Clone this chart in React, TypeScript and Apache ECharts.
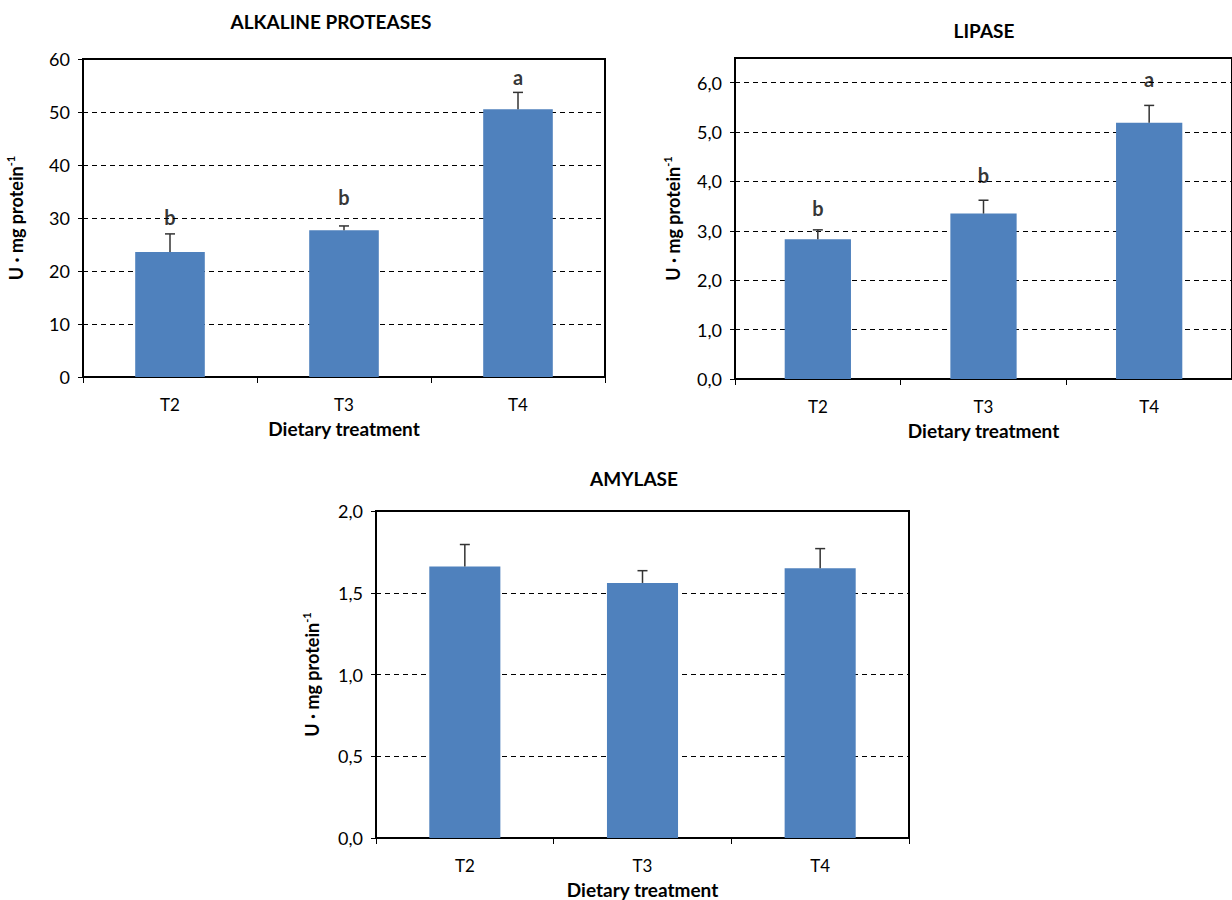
import React, { useEffect, useRef } from "react";
import * as echarts from "echarts";

const categories = ["T2", "T3", "T4"];

const proteaseValues = [23.6, 27.7, 50.5];
const proteaseSE = [3.4, 0.8, 3.2];
const proteaseLetters = ["b", "b", "a"];
const proteaseLetterY = [30.2, 33.9, 56.6];

const lipaseValues = [2.83, 3.35, 5.19];
const lipaseSE = [0.19, 0.27, 0.35];
const lipaseLetters = ["b", "b", "a"];
const lipaseLetterY = [3.47, 4.14, 6.07];

const amylaseValues = [1.66, 1.56, 1.65];
const amylaseSE = [0.135, 0.075, 0.12];

const FONT = "Lato, 'Open Sans', sans-serif";
const BAR_COLOR = "#4f81bd";

const commaFmt = (v: number) => v.toFixed(1).replace(".", ",");

function yAxis(gridIndex: number, max: number, interval: number, fmt: any, nameGap: number, showMax = true) {
  return {
    type: "value",
    gridIndex,
    min: 0,
    max,
    interval,
    name: "{a|U · mg protein}{s|-1}",
    nameLocation: "middle",
    nameGap,
    nameRotate: 90,
    nameTextStyle: {
      rich: {
        a: { fontFamily: FONT, fontSize: 18, fontWeight: "bold", color: "#000", lineHeight: 22 },
        s: { fontFamily: FONT, fontSize: 11, fontWeight: "bold", color: "#000", verticalAlign: "top", lineHeight: 22 },
      },
    },
    axisLine: { show: true, lineStyle: { color: "#000", width: 2 } },
    axisTick: { show: true, length: 5, lineStyle: { color: "#000", width: 1 } },
    axisLabel: {
      fontFamily: FONT,
      fontSize: 18,
      color: "#000",
      margin: 13,
      formatter: fmt,
      showMaxLabel: showMax,
    },
    splitLine: { show: true, lineStyle: { color: "#000", width: 1, type: [5, 4] } },
  };
}

function xAxis(gridIndex: number) {
  return {
    type: "category",
    gridIndex,
    data: categories,
    boundaryGap: true,
    name: "Dietary treatment",
    nameLocation: "middle",
    nameGap: 42,
    nameTextStyle: { fontFamily: FONT, fontSize: 19, fontWeight: "bold", color: "#000" },
    axisLine: { show: true, lineStyle: { color: "#000", width: 2 } },
    axisTick: { show: true, alignWithLabel: false, length: 6, lineStyle: { color: "#000", width: 1 } },
    axisLabel: { fontFamily: FONT, fontSize: 17, color: "#000", margin: 19 },
    splitLine: { show: false },
  };
}

function barSeries(idx: number, values: number[]) {
  return {
    type: "bar",
    xAxisIndex: idx,
    yAxisIndex: idx,
    data: values,
    barWidth: "40%",
    itemStyle: { color: BAR_COLOR },
    z: 3,
  };
}

function errSeries(idx: number, values: number[], se: number[]) {
  return {
    type: "custom",
    xAxisIndex: idx,
    yAxisIndex: idx,
    z: 4,
    data: values.map((v, i) => [i, v, v + se[i]]),
    renderItem: (params: any, api: any) => {
      const base = api.coord([api.value(0), api.value(1)]);
      const top = api.coord([api.value(0), api.value(2)]);
      const cap = 5;
      return {
        type: "group",
        children: [
          {
            type: "line",
            shape: { x1: base[0], y1: base[1], x2: top[0], y2: top[1] },
            style: { stroke: "#333", lineWidth: 1.5 },
          },
          {
            type: "line",
            shape: { x1: top[0] - cap, y1: top[1], x2: top[0] + cap, y2: top[1] },
            style: { stroke: "#333", lineWidth: 1.5 },
          },
        ],
      };
    },
  };
}

function letterSeries(idx: number, ys: number[], letters: string[]) {
  return {
    type: "scatter",
    xAxisIndex: idx,
    yAxisIndex: idx,
    symbolSize: 1,
    itemStyle: { color: "rgba(0,0,0,0)" },
    z: 5,
    data: ys.map((y, i) => [i, y]),
    label: {
      show: true,
      position: "inside",
      formatter: (p: any) => letters[p.dataIndex],
      fontFamily: FONT,
      fontSize: 20,
      fontWeight: "bold",
      color: "#000",
    },
  };
}

export default function App() {
  const ref = useRef<HTMLDivElement>(null);
  useEffect(() => {
    if (!ref.current) return;
    const chart = echarts.init(ref.current, undefined, { renderer: "svg" });
    const gridStyle = { show: true, borderColor: "#000", borderWidth: 2, containLabel: false };
    const titleStyle = { textAlign: "center", textVerticalAlign: "middle", fontFamily: FONT, fontSize: 19, fontWeight: "bold", fill: "#000" };
    chart.setOption({
      animation: false,
      backgroundColor: "#fff",
      grid: [
        { ...gridStyle, left: 83, top: 59, width: 522, height: 318 },
        { ...gridStyle, left: 735, top: 58, width: 498, height: 321 },
        { ...gridStyle, left: 376, top: 511, width: 533, height: 327 },
      ],
      xAxis: [xAxis(0), xAxis(1), xAxis(2)],
      yAxis: [
        yAxis(0, 60, 10, (v: number) => String(v), 56),
        yAxis(1, 6.5, 1, commaFmt, 51, false),
        yAxis(2, 2, 0.5, commaFmt, 53),
      ],
      graphic: [
        { type: "text", x: 331, y: 21, style: { ...titleStyle, text: "ALKALINE PROTEASES" } },
        { type: "text", x: 984, y: 30, style: { ...titleStyle, text: "LIPASE" } },
        { type: "text", x: 634, y: 478, style: { ...titleStyle, text: "AMYLASE" } },
      ],
      series: [
        barSeries(0, proteaseValues),
        errSeries(0, proteaseValues, proteaseSE),
        letterSeries(0, proteaseLetterY, proteaseLetters),
        barSeries(1, lipaseValues),
        errSeries(1, lipaseValues, lipaseSE),
        letterSeries(1, lipaseLetterY, lipaseLetters),
        barSeries(2, amylaseValues),
        errSeries(2, amylaseValues, amylaseSE),
      ],
    });
    return () => chart.dispose();
  }, []);
  return (
    <div
      ref={ref}
      style={{ position: "absolute", left: 0, top: 0, width: 1232, height: 900 }}
    />
  );
}
